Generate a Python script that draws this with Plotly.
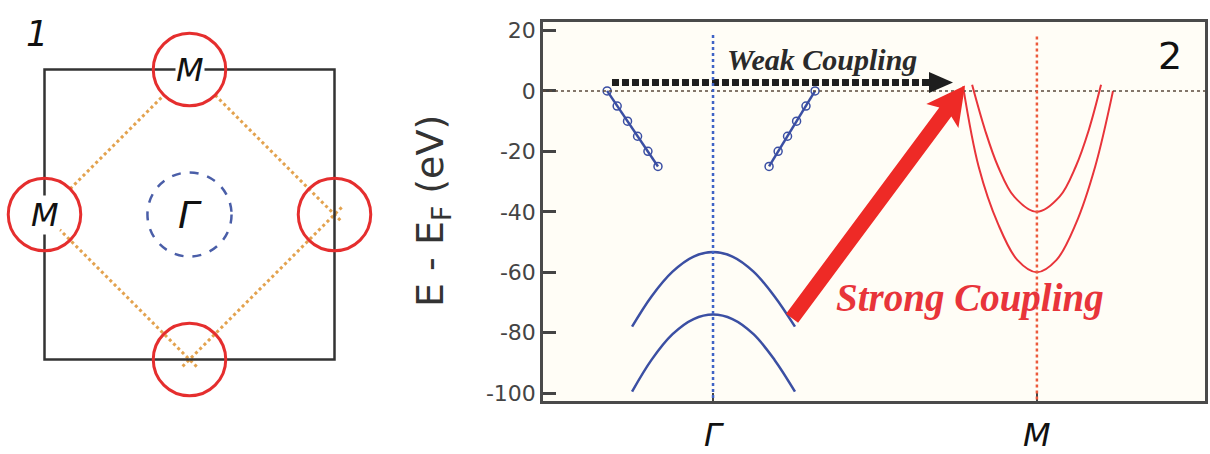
import math
import plotly.graph_objects as go

W, H = 1210, 454

# ---------------- band-structure panel (2) ----------------
energy_ticks = [20, 0, -20, -40, -60, -80, -100]
energy_tick_labels = ["20", "0", "-20", "-40", "-60", "-80", "-100"]
k_ticks = [0, 1]
k_tick_labels = ["<i>Γ</i>", "<i>M</i>"]

# linear bands crossing E_F near Γ (measured points)
gamma_left_k = [-0.327, -0.296, -0.264, -0.233, -0.201, -0.170]
gamma_left_E = [0, -5, -10, -15, -20, -25]
gamma_right_k = [0.315, 0.287, 0.258, 0.230, 0.201, 0.173]
gamma_right_E = [0, -5, -10, -15, -20, -25]

# hole-like bands at Γ
gamma_band_k = [-0.25, -0.19, -0.125, -0.06, 0.0, 0.06, 0.125, 0.19, 0.253]
gamma_band1_E = [-78, -68, -59.8, -54.8, -53.3, -54.8, -59.8, -68, -78]
gamma_band2_E = [-99.5, -89, -80.5, -75.5, -74, -75.5, -80.5, -89, -99.5]

# electron-like bands at M
m_band1_k = [0.80, 0.84, 0.88, 0.93, 1.0, 1.07, 1.12, 1.16, 1.198]
m_band1_E = [2, -13, -25, -35, -40, -35, -25, -13, 2]
m_band2_k = [0.772, 0.82, 0.88, 0.94, 1.0, 1.06, 1.12, 1.18, 1.235]
m_band2_E = [1.5, -25, -44, -56, -60, -56, -44, -25, 0]

# high-symmetry guide lines: k, top energy, colour
sym_lines_k = [0.0, 1.0]
sym_lines_top = [18.5, 18.0]
sym_lines_color = ["#3f63c6", "#ec5a3c"]

# coupling arrows: (k, E) of tail and tip
weak_tail = (-0.312, 2.8)
weak_tip = (0.741, 2.8)
strong_tail = (0.244, -75.2)
strong_tip = (0.778, 1.8)

k_range = [-0.525, 1.519]
E_range = [-102.6, 22.8]

# ---------------- Brillouin-zone panel (1) ----------------
bz_half = 1.0
m_points_x = [0, -1, 1, 0]
m_points_y = [1, 0, 0, -1]
m_labelled = [True, True, False, False]
m_pocket_r = 0.25
gamma_pocket_r = 0.29

BLUE = "#3b4fa3"
RED = "#e8343a"
ORANGE = "#e3a24e"

# plot-area geometry (pixels)
plot_left, plot_right, plot_top, plot_bottom = 543, 1205, 22, 401
px_per_k = (plot_right - plot_left) / (k_range[1] - k_range[0])
px_per_E = (plot_bottom - plot_top) / (E_range[1] - E_range[0])


def to_px(p):
    return (p[0] * px_per_k, -p[1] * px_per_E)


def to_data(q):
    return (q[0] / px_per_k, -q[1] / px_per_E)


def arrow_polygon(tail, tip, shaft_w, head_len, head_w, notch=0.0):
    """Closed SVG path (data units) of an arrow with a straight shaft and triangular head."""
    t, h = to_px(tail), to_px(tip)
    dx, dy = h[0] - t[0], h[1] - t[1]
    L = math.hypot(dx, dy)
    ux, uy = dx / L, dy / L
    nx, ny = -uy, ux
    bx, by = h[0] - ux * head_len, h[1] - uy * head_len
    jx, jy = bx + ux * notch, by + uy * notch
    pts = []
    if shaft_w > 0:
        pts += [(t[0] + nx * shaft_w / 2, t[1] + ny * shaft_w / 2),
                (jx + nx * shaft_w / 2, jy + ny * shaft_w / 2)]
    pts += [(bx + nx * head_w / 2, by + ny * head_w / 2), h,
            (bx - nx * head_w / 2, by - ny * head_w / 2)]
    if shaft_w > 0:
        pts += [(jx - nx * shaft_w / 2, jy - ny * shaft_w / 2),
                (t[0] - nx * shaft_w / 2, t[1] - ny * shaft_w / 2)]
    d = [to_data(p) for p in pts]
    return "M " + " L ".join(f"{x:.5f},{y:.4f}" for x, y in d) + " Z"


fig = go.Figure()

# cream background of the band panel
fig.add_shape(type="rect", xref="x domain", yref="y domain", x0=0, x1=1, y0=0, y1=1,
              fillcolor="#fffdf6", line=dict(width=0), layer="below")

# ----- panel 2 traces -----
for ks, es in [(gamma_left_k, gamma_left_E), (gamma_right_k, gamma_right_E)]:
    fig.add_trace(go.Scatter(
        x=ks, y=es, mode="lines+markers",
        line=dict(color=BLUE, width=2.5),
        marker=dict(symbol="circle-open", size=8, color=BLUE, line=dict(width=1.5)),
        hoverinfo="skip", showlegend=False, xaxis="x", yaxis="y"))

for es in [gamma_band1_E, gamma_band2_E]:
    fig.add_trace(go.Scatter(
        x=gamma_band_k, y=es, mode="lines", line_shape="spline",
        line=dict(color=BLUE, width=2.5),
        hoverinfo="skip", showlegend=False, xaxis="x", yaxis="y"))

for ks, es in [(m_band1_k, m_band1_E), (m_band2_k, m_band2_E)]:
    fig.add_trace(go.Scatter(
        x=ks, y=es, mode="lines", line_shape="spline",
        line=dict(color=RED, width=2),
        hoverinfo="skip", showlegend=False, xaxis="x", yaxis="y"))

# Fermi level
fig.add_shape(type="line", xref="x domain", yref="y", x0=0, x1=1, y0=0, y1=0,
              line=dict(color="#5b4a3c", width=1.5, dash="dot"))

# Γ and M guide lines
for k, top, col in zip(sym_lines_k, sym_lines_top, sym_lines_color):
    fig.add_shape(type="line", xref="x", yref="y", x0=k, x1=k, y0=top, y1=E_range[0],
                  line=dict(color=col, width=2.5, dash="dot"))

# weak-coupling arrow: dashed shaft + triangular head
weak_head_len = 24
fig.add_trace(go.Scatter(
    x=[weak_tail[0], weak_tip[0] - weak_head_len / px_per_k], y=[weak_tail[1], weak_tip[1]],
    mode="lines", line=dict(color="#1e1e1e", width=7, dash="7px,3px"),
    hoverinfo="skip", showlegend=False, xaxis="x", yaxis="y"))
fig.add_shape(type="path", xref="x", yref="y",
              path=arrow_polygon(weak_tail, weak_tip, 0, weak_head_len, 21),
              fillcolor="#1e1e1e", line=dict(width=0))

# strong-coupling arrow
fig.add_shape(type="path", xref="x", yref="y",
              path=arrow_polygon(strong_tail, strong_tip, 15, 38, 40, notch=5),
              fillcolor="#ee2a26", line=dict(width=0))

annotations = [
    dict(x=0.337, y=10.3, xref="x", yref="y", text="<b><i>Weak Coupling</i></b>",
         xanchor="center", yanchor="middle", showarrow=False,
         font=dict(family="Liberation Serif", size=30, color="#2a2a2a")),
    dict(x=0.793, y=-68.5, xref="x", yref="y", text="<b><i>Strong Coupling</i></b>",
         xanchor="center", yanchor="middle", showarrow=False,
         font=dict(family="Liberation Serif", size=39, color=RED)),
    dict(x=1170 / W, y=1 - 56 / H, xref="paper", yref="paper", text="2",
         xanchor="center", yanchor="middle", showarrow=False,
         font=dict(family="DejaVu Sans", size=38, color="#111")),
    dict(x=433 / W, y=1 - 211 / H, xref="paper", yref="paper", textangle=-90,
         xanchor="center", yanchor="middle",
         text="E - E<sub>F</sub> (eV)", showarrow=False,
         font=dict(family="DejaVu Sans", size=38, color="#333")),
]

# ----- panel 1: Brillouin zone -----
fig.add_shape(type="rect", xref="x2", yref="y2", x0=-bz_half, x1=bz_half, y0=-bz_half, y1=bz_half,
              line=dict(color="#333", width=2.5))


def trimmed(p, q, trim_p, trim_q):
    dx, dy = q[0] - p[0], q[1] - p[1]
    L = math.hypot(dx, dy)
    ux, uy = dx / L, dy / L
    return ((p[0] + ux * trim_p, p[1] + uy * trim_p), (q[0] - ux * trim_q, q[1] - uy * trim_q))


# nesting diamond joining the M points
top, left, right, bottom = [(m_points_x[i], m_points_y[i]) for i in range(4)]
over = -0.07
diamond_edges = [
    trimmed(top, right, m_pocket_r, over),
    trimmed(right, bottom, over, over),
    trimmed(bottom, left, over, m_pocket_r * 0.6),
    trimmed(left, top, m_pocket_r, m_pocket_r),
]
for a, b in diamond_edges:
    fig.add_trace(go.Scatter(
        x=[a[0], b[0]], y=[a[1], b[1]], mode="lines",
        line=dict(color=ORANGE, width=3, dash="dot"),
        hoverinfo="skip", showlegend=False, xaxis="x2", yaxis="y2"))

# Γ hole pocket
fig.add_shape(type="circle", xref="x2", yref="y2",
              x0=-gamma_pocket_r, x1=gamma_pocket_r, y0=-gamma_pocket_r, y1=gamma_pocket_r,
              line=dict(color="#4a5ea8", width=2.5, dash="dash"))

# M electron pockets
for mx, my, lab in zip(m_points_x, m_points_y, m_labelled):
    fig.add_shape(type="circle", xref="x2", yref="y2",
                  x0=mx - m_pocket_r, x1=mx + m_pocket_r, y0=my - m_pocket_r, y1=my + m_pocket_r,
                  line=dict(color="#e52e2e", width=3))
    if lab:
        annotations.append(dict(x=mx, y=my, xref="x2", yref="y2", text="<i>M</i>", showarrow=False,
                                xanchor="center", yanchor="middle", bgcolor="white", borderpad=0,
                                font=dict(family="DejaVu Sans", size=32, color="#111")))

annotations.append(dict(x=0, y=0, xref="x2", yref="y2", text="<i>Γ</i>", showarrow=False,
                        xanchor="center", yanchor="middle",
                        font=dict(family="DejaVu Sans", size=38, color="#111")))
annotations.append(dict(x=37 / W, y=1 - 34 / H, xref="paper", yref="paper", text="<i>1</i>",
                        xanchor="center", yanchor="middle", showarrow=False,
                        font=dict(family="DejaVu Sans", size=35, color="#111")))

# ----- layout -----
px_unit = 145
bz_span = 1.3
cx, cy = 189.5, 214.5

fig.update_layout(
    width=W, height=H,
    margin=dict(l=0, r=0, t=0, b=0, autoexpand=False),
    paper_bgcolor="white",
    plot_bgcolor="white",
    showlegend=False,
    annotations=annotations,
    xaxis=dict(
        domain=[plot_left / W, plot_right / W], range=k_range,
        tickvals=k_ticks, ticktext=k_tick_labels,
        ticks="inside", ticklen=8, tickwidth=2, tickcolor="#444",
        tickfont=dict(family="DejaVu Sans", size=32, color="#111"),
        ticklabelstandoff=4, automargin=False,
        showline=True, linecolor="#4a4a4a", linewidth=2.5, mirror=True,
        showgrid=False, zeroline=False,
    ),
    yaxis=dict(
        domain=[1 - plot_bottom / H, 1 - plot_top / H], range=E_range,
        tickvals=energy_ticks, ticktext=energy_tick_labels,
        ticks="inside", ticklen=13, tickwidth=2.5, tickcolor="#444",
        tickfont=dict(family="DejaVu Sans", size=22, color="#444"),
        automargin=False,
        showline=True, linecolor="#4a4a4a", linewidth=2.5, mirror=True,
        showgrid=False, zeroline=False,
    ),
    xaxis2=dict(
        domain=[(cx - bz_span * px_unit) / W, (cx + bz_span * px_unit) / W],
        range=[-bz_span, bz_span], visible=False, anchor="y2", automargin=False,
    ),
    yaxis2=dict(
        domain=[1 - (cy + bz_span * px_unit) / H, 1 - (cy - bz_span * px_unit) / H],
        range=[-bz_span, bz_span], visible=False, anchor="x2", automargin=False,
    ),
)

fig.write_html("out.html")
